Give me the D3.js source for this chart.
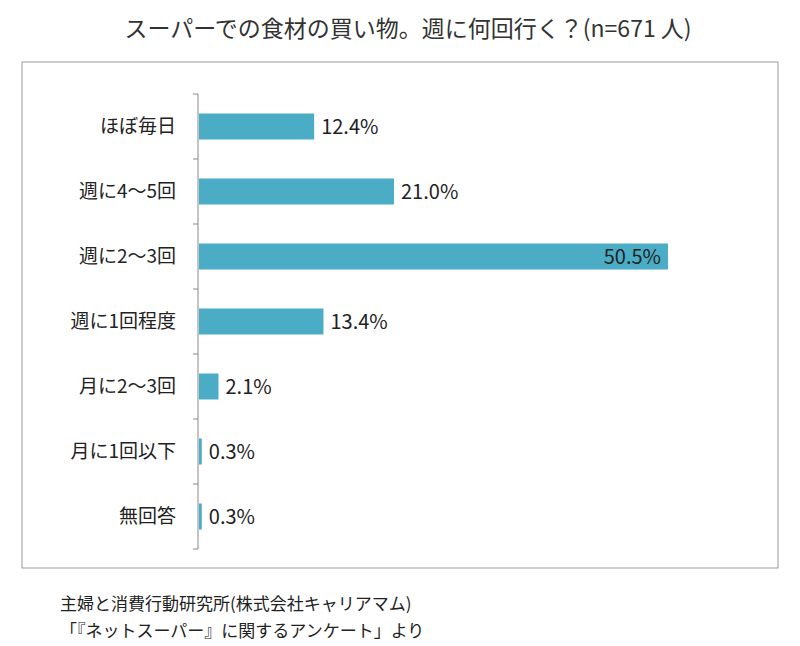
<!DOCTYPE html>
<html><head><meta charset="utf-8">
<script src="https://cdn.jsdelivr.net/npm/d3@7"></script>
<style>body{margin:0;background:#fff}text{font-family:"Noto Sans CJK JP",sans-serif}</style>
</head><body>
<script>
var categories = ["ほぼ毎日","週に4～5回","週に2～3回","週に1回程度","月に2～3回","月に1回以下","無回答"];
var values = [12.4, 21.0, 50.5, 13.4, 2.1, 0.3, 0.3];

var width = 800, height = 646;
var svg = d3.select("body").append("svg").attr("width", width).attr("height", height);

svg.append("text").attr("x", 408).attr("y", 37).attr("text-anchor", "middle")
  .attr("font-size", 23).attr("fill", "#333")
  .text("スーパーでの食材の買い物。週に何回行く？(n=671 人)");

svg.append("rect").attr("x", 22).attr("y", 62).attr("width", 756).attr("height", 506)
  .attr("fill", "none").attr("stroke", "#999");

var x = d3.scaleLinear().domain([0, 50.5]).range([198, 667]);
var y = d3.scaleBand().domain(categories).range([94, 549]).paddingInner(0.6).paddingOuter(0.3);

svg.append("line").attr("x1", 198).attr("x2", 198).attr("y1", 94).attr("y2", 549).attr("stroke", "#888");
svg.selectAll(".tick").data(d3.range(categories.length + 1)).enter().append("line")
  .attr("x1", 193).attr("x2", 198)
  .attr("y1", function(i){ return 94 + i * 455 / categories.length; })
  .attr("y2", function(i){ return 94 + i * 455 / categories.length; })
  .attr("stroke", "#888");

svg.selectAll(".bar").data(values).enter().append("rect")
  .attr("x", 199)
  .attr("y", function(d, i){ return y(categories[i]); })
  .attr("width", function(d){ return Math.max(x(d) - 198, 2); })
  .attr("height", y.bandwidth())
  .attr("fill", "#4bacc6");

svg.selectAll(".cat").data(categories).enter().append("text")
  .attr("x", 176).attr("y", function(d){ return y(d) + y.bandwidth() / 2; })
  .attr("dy", "0.35em").attr("text-anchor", "end").attr("font-size", 19).attr("fill", "#222")
  .text(function(d){ return d; });

svg.selectAll(".val").data(values).enter().append("text")
  .attr("x", function(d){ return d > 40 ? x(d) - 6 : Math.max(x(d), 200) + 8; })
  .attr("y", function(d, i){ return y(categories[i]) + y.bandwidth() / 2; })
  .attr("dy", "0.35em").attr("text-anchor", function(d){ return d > 40 ? "end" : "start"; })
  .attr("font-size", 20).attr("fill", "#222")
  .text(function(d){ return d.toFixed(1) + "%"; });

svg.append("text").attr("x", 60).attr("y", 610).attr("font-size", 17).attr("fill", "#222")
  .text("主婦と消費行動研究所(株式会社キャリアマム)");
svg.append("text").attr("x", 60).attr("y", 637).attr("font-size", 17).attr("fill", "#222")
  .text("「『ネットスーパー』に関するアンケート」より");
</script>
</body></html>
